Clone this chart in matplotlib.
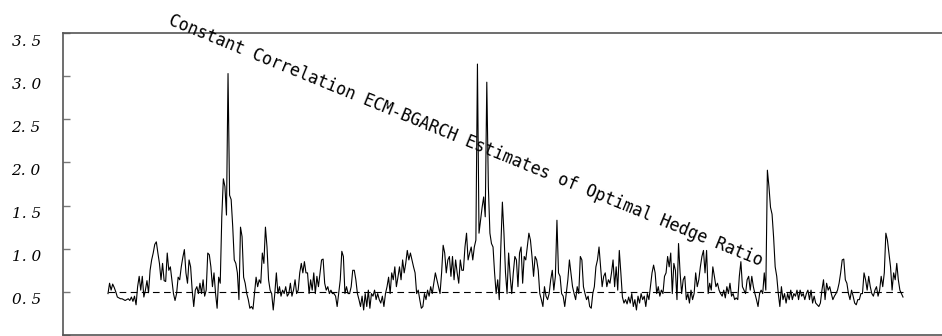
import numpy as np
import matplotlib.pyplot as plt
import matplotlib.transforms as mtransforms

# hedge ratio estimates
seg1 = [0.48, 0.60, 0.52, 0.59, 0.55, 0.50, 0.44, 0.43, 0.42, 0.42, 0.41, 0.40, 0.41, 0.42, 0.40,
        0.44, 0.39, 0.45, 0.35, 0.56, 0.68, 0.52, 0.68, 0.44, 0.52, 0.63, 0.49, 0.75, 0.87, 0.95,
        1.05, 1.08, 0.95, 0.83, 0.64, 0.83, 0.63, 0.62, 0.95, 0.75, 0.79, 0.64, 0.48, 0.40, 0.48,
        0.67, 0.64, 0.79, 0.90, 0.99, 0.72, 0.60, 0.87, 0.79, 0.52, 0.33, 0.52, 0.56, 0.48, 0.60]
seg2 = [0.48, 0.64, 0.45, 0.52, 0.95, 0.93, 0.79, 0.56, 0.72, 0.48, 0.31, 0.67, 0.60, 1.37, 1.81,
        1.72, 1.39, 3.03, 1.62, 1.57, 1.26, 0.87, 0.83, 0.72, 0.41, 1.25, 1.14, 0.67, 0.60, 0.48,
        0.41, 0.31, 0.33, 0.30, 0.48, 0.67, 0.56, 0.64, 0.60, 0.95, 0.83, 1.25, 1.02, 0.64, 0.52,
        0.48, 0.29, 0.48, 0.72, 0.48, 0.56, 0.45, 0.52, 0.48, 0.56, 0.45, 0.48, 0.60, 0.45, 0.52,
        0.64, 0.48, 0.52, 0.72, 0.83, 0.72, 0.85, 0.72]
seg3 = [0.72, 0.48, 0.64, 0.52, 0.72, 0.48, 0.68, 0.56, 0.72, 0.87, 0.88, 0.60, 0.52, 0.56, 0.48,
        0.52, 0.48, 0.48, 0.45, 0.33, 0.48, 0.64, 0.97, 0.91, 0.48, 0.56, 0.48, 0.48, 0.56, 0.75,
        0.75, 0.64, 0.48, 0.41, 0.33, 0.45, 0.29, 0.48, 0.33, 0.52, 0.31, 0.48, 0.45, 0.52, 0.41,
        0.48, 0.41, 0.37, 0.45, 0.33, 0.48, 0.56, 0.67, 0.48, 0.72, 0.64, 0.79, 0.56, 0.67, 0.79,
        0.64, 0.87, 0.72, 0.83, 0.98, 0.87, 0.95]
seg4 = [0.87, 0.79, 0.72, 0.48, 0.52, 0.41, 0.31, 0.33, 0.48, 0.41, 0.52, 0.45, 0.56, 0.48, 0.60,
        0.72, 0.64, 0.56, 0.48, 0.72, 1.04, 0.95, 0.72, 0.87, 0.91, 0.68, 0.91, 0.64, 0.87, 0.72,
        0.60, 0.87, 0.75, 0.75, 1.02, 1.18, 0.87, 0.95, 1.02, 0.87, 1.02, 1.10, 3.14, 1.18, 1.33,
        1.48, 1.60, 1.37, 2.93, 1.72, 1.18, 1.06, 1.02, 0.72, 0.48, 0.64, 0.41, 1.02, 1.54, 1.18,
        0.72, 0.48, 0.95, 0.68, 0.48, 0.72, 0.91]
seg5 = [0.87, 0.56, 0.95, 1.02, 0.60, 0.91, 0.87, 1.02, 1.18, 1.10, 0.91, 0.68, 0.91, 0.87, 0.75,
        0.48, 0.41, 0.33, 0.56, 0.45, 0.41, 0.48, 0.64, 0.75, 0.52, 0.68, 1.33, 0.72, 0.68, 0.48,
        0.45, 0.33, 0.48, 0.64, 0.87, 0.72, 0.56, 0.48, 0.41, 0.56, 0.48, 0.91, 0.87, 0.56, 0.48,
        0.41, 0.45, 0.33, 0.31, 0.48, 0.56, 0.79, 0.87, 1.02, 0.79, 0.56, 0.68, 0.72, 0.56, 0.64,
        0.60]
seg6 = [0.72, 0.87, 0.56, 0.79, 0.52, 0.98, 0.72, 0.44, 0.37, 0.41, 0.36, 0.44, 0.37, 0.48, 0.33,
        0.41, 0.29, 0.45, 0.37, 0.48, 0.41, 0.45, 0.33, 0.48, 0.41, 0.56, 0.72, 0.81, 0.72, 0.48,
        0.56, 0.45, 0.52, 0.48, 0.68, 0.72, 0.91, 0.79, 0.95, 0.48, 0.83, 0.75, 0.41, 1.06, 0.72,
        0.48, 0.64, 0.68, 0.41, 0.48, 0.37, 0.52, 0.41, 0.48, 0.72, 0.56, 0.64, 0.79, 0.91, 0.98,
        0.72]
seg7 = [0.98, 0.48, 0.60, 0.52, 0.79, 0.68, 0.56, 0.60, 0.52, 0.48, 0.45, 0.52, 0.43, 0.56, 0.48,
        0.60, 0.45, 0.48, 0.41, 0.43, 0.41, 0.68, 0.85, 0.56, 0.52, 0.48, 0.64, 0.68, 0.52, 0.68,
        0.56, 0.48, 0.41, 0.33, 0.48, 0.52, 0.48, 0.72, 0.52, 1.91, 1.72, 1.48, 1.40, 1.13, 0.79,
        0.68, 0.48, 0.33, 0.56, 0.41, 0.48, 0.37, 0.48, 0.41, 0.52, 0.41, 0.48, 0.45, 0.52, 0.41,
        0.52, 0.45, 0.48, 0.41]
seg8 = [0.48, 0.52, 0.41, 0.52, 0.37, 0.45, 0.37, 0.35, 0.33, 0.37, 0.52, 0.64, 0.41, 0.60, 0.52,
        0.56, 0.48, 0.41, 0.45, 0.48, 0.52, 0.60, 0.72, 0.87, 0.88, 0.64, 0.60, 0.48, 0.41, 0.52,
        0.45, 0.37, 0.35, 0.41, 0.41, 0.48, 0.48, 0.72, 0.64, 0.52, 0.68, 0.56, 0.48, 0.45, 0.52,
        0.56, 0.45, 0.52, 0.68, 0.56, 0.72, 1.18, 1.10, 0.95, 0.79, 0.52, 0.72, 0.64, 0.83, 0.64,
        0.52, 0.48, 0.44]

hedge = np.array(seg1 + seg2 + seg3 + seg4 + seg5 + seg6 + seg7 + seg8)
avg_level = 0.5
yticks = [0.0, 0.5, 1.0, 1.5, 2.0, 2.5, 3.0, 3.5]
ytick_labels = ['0', '0. 5', '1. 0', '1. 5', '2. 0', '2. 5', '3. 0', '3. 5']
title = 'Constant Correlation ECM-BGARCH Estimates of Optimal Hedge Ratio'

n = len(hedge)
t = np.arange(n)

fig = plt.figure(figsize=(9.42, 3.36), dpi=100)
ax = fig.add_axes([63/942, 1/336, 1 - 63/942, 302/336])

ax.plot(t, hedge, color='black', lw=0.8)
ax.plot(t, np.full(n, avg_level), color='black', lw=0.8, ls=(0, (6, 4)))

# series runs from x=108 px to x=903 px of an axis that spans 63..942 px
ppx = 795 / (n - 1)
ax.set_xlim(-45 / ppx, (n - 1) + 39 / ppx)
ax.set_ylim(0, 3.5)

ax.set_xticks([])
ax.set_yticks(yticks)
ax.set_yticklabels(ytick_labels, fontfamily='DejaVu Serif', fontstyle='italic', fontsize=11)
ax.tick_params(axis='y', direction='in', length=5, width=1, color='#777777', pad=16)
offset = mtransforms.ScaledTranslation(0, -7/100, fig.dpi_scale_trans)
for lab in ax.get_yticklabels():
    lab.set_transform(lab.get_transform() + offset)

ax.spines['right'].set_visible(False)
for s in ['left', 'top', 'bottom']:
    ax.spines[s].set_color('#555555')
    ax.spines[s].set_linewidth(1.2)

# the title is drawn slanted across the plot
fig.text(168/942, 1 - 24/336, title, rotation=-22.2, rotation_mode='anchor',
         ha='left', va='baseline', fontfamily='DejaVu Sans Mono', fontsize=12,
         color='black')

fig.savefig('out.png', dpi=100)
